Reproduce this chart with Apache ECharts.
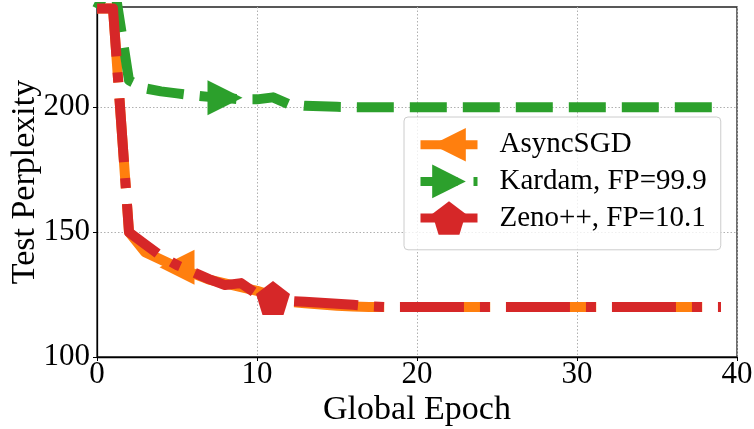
<!DOCTYPE html>
<html>
<head>
<meta charset="utf-8">
<script src="https://cdn.jsdelivr.net/npm/echarts@6/dist/echarts.min.js"></script>
<style>html,body{margin:0;padding:0;background:#fff}#c{width:754px;height:429px}</style>
</head>
<body>
<div id="c"></div>
<script>
const epochs = [0,1,2,3,4,5,6,7,8,9,10,11,12,13,14,15,16,17,18,19,20,21,22,23,24,25,26,27,28,29,30,31,32,33,34,35,36,37,38,39];
const asyncSGD = [239.6,239.6,150,142,139,136,133.5,131,129.5,128,126.5,124.5,122.2,121.5,121,120.5,120.2,120,120,120,120,120,120,120,120,120,120,120,120,120,120,120,120,120,120,120,120,120,120,120];
const kardam = [239.6,252,210.8,207.6,206.4,205.6,204.8,204.2,203.8,203.2,203.2,204,201.2,200.6,200.4,200.2,200.1,200,200,200,200,200,200,200,200,200,200,200,200,200,200,200,200,200,200,200,200,200,200,200];
const zeno = [239.6,239.6,150,145.2,140.4,136.8,134,131.2,128.8,129.6,125.2,123.6,122.5,122.1,121.7,121.3,120.9,120.3,120,120,120,120,120,120,120,120,120,120,120,120,120,120,120,120,120,120,120,120,120,120];
const seriesNames = ['AsyncSGD', 'Kardam, FP=99.9', 'Zeno++, FP=10.1'];
const markerIndex = [5, 8, 11];
const xTicks = [0, 10, 20, 30, 40];
const yTicks = [100, 150, 200];

const FONT = 'Liberation Serif';
const pentagon = 'path://M0,-100L95.1,-30.9L58.8,80.9L-58.8,80.9L-95.1,-30.9Z';

function pairs(vals) { return epochs.map((e, i) => [e, vals[i]]); }
function sizeFn(idx, size) {
  return function (v, p) { return p.dataIndex === idx ? size : 0; };
}

const chart = echarts.init(document.getElementById('c'), null, {renderer: 'canvas'});
chart.setOption({
  animation: false,
  grid: {left: 97, right: 17, top: 7, bottom: 72, outerBoundsMode: 'none', containLabel: false, show: true, borderColor: '#222', borderWidth: 1.3, backgroundColor: 'transparent'},
  xAxis: {
    type: 'value', min: 0, max: 40, interval: 10,
    name: 'Global Epoch', nameLocation: 'middle', nameGap: 36, nameMoveOverlap: false,
    nameTextStyle: {fontFamily: FONT, fontSize: 34, color: '#000'},
    axisLine: {show: true, lineStyle: {color: '#000', width: 1.3}},
    axisTick: {show: true, length: 4, inside: false, lineStyle: {color: '#000', width: 1}, customValues: xTicks},
    axisLabel: {fontFamily: FONT, fontSize: 31, color: '#000', margin: 2, customValues: xTicks},
    splitLine: {show: true, lineStyle: {color: '#b0b0b0', type: [1.5, 2], width: 1}}
  },
  yAxis: {
    type: 'value', min: 100, max: 240.2, interval: 50,
    name: 'Test Perplexity', nameLocation: 'middle', nameGap: 55, nameRotate: 90, nameMoveOverlap: false,
    nameTextStyle: {fontFamily: FONT, fontSize: 34, color: '#000'},
    axisLine: {show: true, lineStyle: {color: '#000', width: 1.3}},
    axisTick: {show: true, length: 4, inside: false, lineStyle: {color: '#000', width: 1}, customValues: yTicks},
    axisLabel: {fontFamily: FONT, fontSize: 31, color: '#000', margin: 7, customValues: yTicks},
    splitLine: {show: true, lineStyle: {color: '#b0b0b0', type: [1.5, 2], width: 1}}
  },
  legend: {
    orient: 'vertical', left: 404, top: 117,
    padding: [11, 14, 15, 12],
    itemWidth: 57, itemHeight: 42, itemGap: 3,
    backgroundColor: 'rgba(255,255,255,0.8)', borderColor: '#cccccc', borderWidth: 1, borderRadius: 4,
    lineStyle: {width: 9},
    textStyle: {fontFamily: FONT, fontSize: 29, color: '#000', padding: [0, 0, 0, 17]},
    data: seriesNames
  },
  series: [
    {
      name: seriesNames[0], type: 'line', z: 2, data: pairs(asyncSGD),
      color: '#ff7f0e', symbol: 'triangle', symbolRotate: 90, symbolSize: sizeFn(markerIndex[0], 35),
      showSymbol: true, showAllSymbol: true, clip: true,
      lineStyle: {width: 10, type: [90, 16], cap: 'butt', join: 'round'},
      itemStyle: {color: '#ff7f0e'}
    },
    {
      name: seriesNames[1], type: 'line', z: 3, data: pairs(kardam),
      color: '#2ca02c', symbol: 'triangle', symbolRotate: -90, symbolSize: sizeFn(markerIndex[1], 35),
      showSymbol: true, showAllSymbol: true, clip: true,
      lineStyle: {width: 10, type: [37, 16], cap: 'butt', join: 'round'},
      itemStyle: {color: '#2ca02c'}
    },
    {
      name: seriesNames[2], type: 'line', z: 4, data: pairs(zeno),
      color: '#d62728', symbol: pentagon, symbolSize: sizeFn(markerIndex[2], 34),
      showSymbol: true, showAllSymbol: true, clip: true,
      lineStyle: {width: 10, type: [64, 16, 10, 16], cap: 'butt', join: 'round'},
      itemStyle: {color: '#d62728'}
    }
  ]
});
</script>
</body>
</html>
